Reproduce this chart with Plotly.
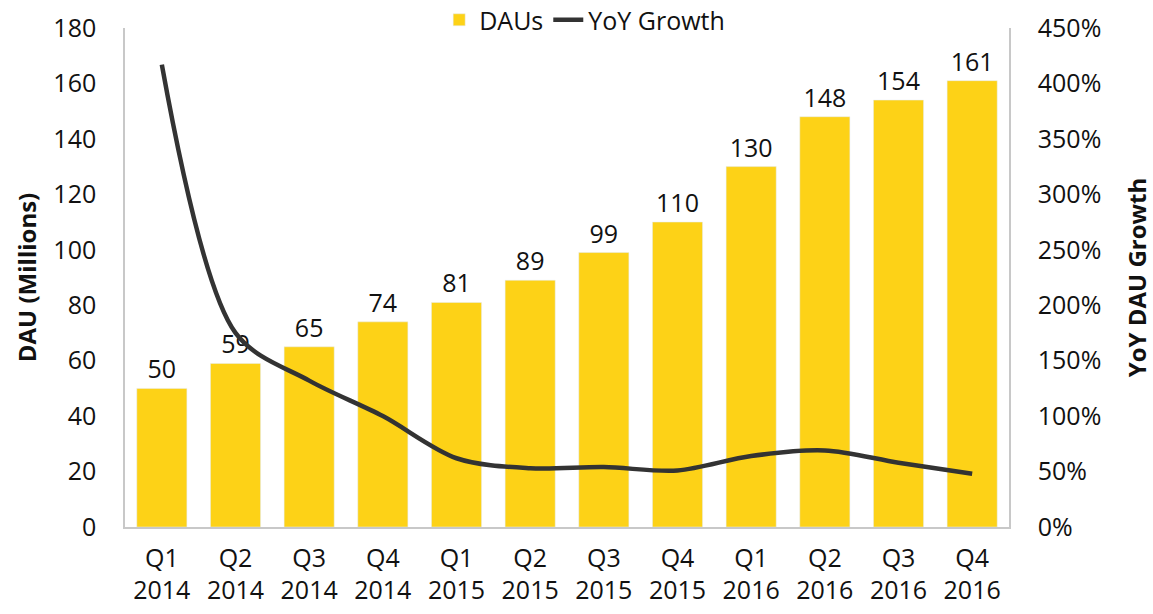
import plotly.graph_objects as go

quarters = ["Q1<br>2014", "Q2<br>2014", "Q3<br>2014", "Q4<br>2014",
            "Q1<br>2015", "Q2<br>2015", "Q3<br>2015", "Q4<br>2015",
            "Q1<br>2016", "Q2<br>2016", "Q3<br>2016", "Q4<br>2016"]
daus = [50, 59, 65, 74, 81, 89, 99, 110, 130, 148, 154, 161]
yoy_growth = [4.17, 1.75, 1.32, 1.00, 0.62, 0.53, 0.54, 0.51, 0.64, 0.69, 0.58, 0.48]

FONT = "Open Sans"
BAR = "#FDD217"
LINE = "#333333"
AX = "#C8C8C8"
FS = 25

fig = go.Figure()
fig.add_trace(go.Bar(
    x=quarters, y=daus, name="DAUs", marker_color=BAR,
    text=[str(v) for v in daus], textposition="outside",
    textfont=dict(size=FS, color="#111111", family=FONT),
    cliponaxis=False,
))
fig.add_trace(go.Scatter(
    x=quarters, y=yoy_growth, name="YoY Growth", yaxis="y2",
    mode="lines", line=dict(color=LINE, width=4.5, shape="spline", smoothing=0.9),
))

fig.update_layout(
    width=1153, height=614,
    margin=dict(l=125, r=144, t=28, b=87, autoexpand=False),
    paper_bgcolor="white", plot_bgcolor="white",
    font=dict(family=FONT, size=FS, color="#111111"),
    bargap=0.32,
    showlegend=True,
    legend=dict(orientation="h", x=0.52, xanchor="center", y=1.016, yanchor="middle",
                font=dict(size=FS), itemwidth=30, tracegroupgap=0,
                bgcolor="rgba(0,0,0,0)"),
    xaxis=dict(showline=True, linecolor=AX, linewidth=1.5, showgrid=False,
               ticks="", tickfont=dict(size=FS), ticklabelstandoff=8),
    yaxis=dict(range=[0, 180], dtick=20, showline=True, linecolor=AX, linewidth=1.5,
               showgrid=False, zeroline=False, ticks="", tickfont=dict(size=FS),
               ticklabelstandoff=22,
               title=dict(text="<b>DAU (Millions)</b>", font=dict(size=24), standoff=10)),
    yaxis2=dict(range=[0, 4.5], dtick=0.5, tickformat=".0%", overlaying="y", side="right",
                showline=True, linecolor=AX, linewidth=1.5, showgrid=False, zeroline=False,
                ticks="", tickfont=dict(size=FS), ticklabelstandoff=22,
                title=dict(text="<b>YoY DAU Growth</b>", font=dict(size=24), standoff=29)),
)

fig.write_html("out.html", config={"displayModeBar": False},
               post_script="document.body.style.margin='0';document.body.style.padding='0';")
